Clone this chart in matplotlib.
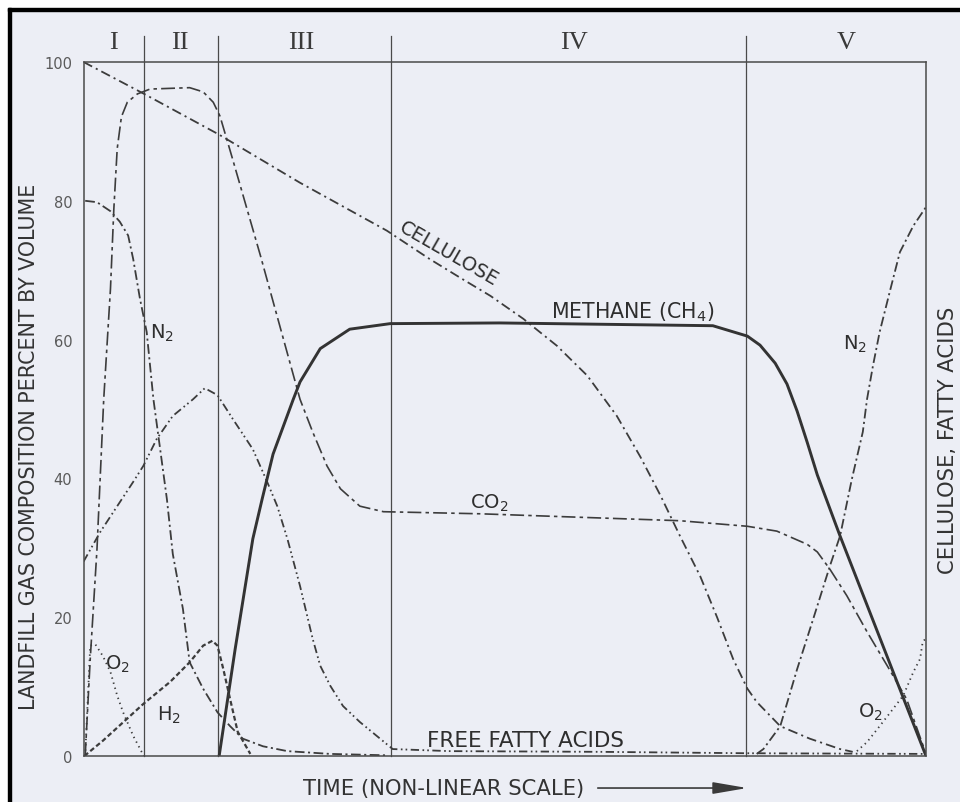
import matplotlib.pyplot as plt
from matplotlib.patches import Rectangle, FancyArrowPatch

plt.rcParams['font.family'] = ['DejaVu Sans']
plt.rcParams['mathtext.fontset'] = 'dejavusans'
plt.rcParams['lines.scale_dashes'] = False

# Fasi (tempo su scala 0-100, non lineare)
phase_edges = [7.2, 16.0, 36.5, 78.6]
phase_names = ["I", "II", "III", "IV", "V"]
phase_label_x = [3.5, 11.45, 25.9, 58.2, 90.5]

# Curve (x = tempo, y = % in volume)
cellulose_x = [0, 7.2, 16.0, 25.7, 36.0, 41.1, 45.0, 48.3, 52.2, 56.2, 59.8, 63.3, 66.1, 68.5,
               70.8, 73.2, 75.2, 77.1, 78.8, 79.9, 81.1, 82.7, 86.2, 89.8, 91.3]
cellulose_y = [100, 95.4, 89.6, 82.6, 75.7, 71.6, 68.7, 66.3, 63.0, 59.1, 54.8, 49.0, 43.1, 37.5,
               31.7, 25.9, 20.0, 14.0, 9.7, 7.8, 6.3, 4.3, 2.5, 1.0, 0.6]

acids_x = [0, 2.0, 4.0, 5.9, 7.1, 8.7, 10.6, 13.0, 14.4, 15.9, 17.7, 20.1, 21.8, 23.0, 24.2,
           25.7, 27.2, 28.1, 29.3, 30.8, 32.8, 34.8, 36.7, 43.5, 61.3, 78.5, 100]
acids_y = [28.0, 32.3, 36.0, 39.5, 41.8, 45.7, 49.0, 51.4, 53.0, 52.0, 48.6, 44.2, 39.5, 36.0, 31.3,
           24.5, 16.9, 13.0, 10.1, 7.2, 4.9, 2.9, 1.0, 0.7, 0.6, 0.4, 0.3]

co2_x = [0.2, 0.8, 1.6, 2.4, 3.2, 3.6, 4.0, 4.5, 5.2, 6.4, 7.9, 12.6, 14.2, 15.4, 16.2, 17.0, 17.7,
         21.0, 25.7, 27.2, 28.9, 30.5, 32.8, 35.6, 47.1, 58.9, 70.8, 78.8, 82.3, 85.9, 87.1, 88.6,
         90.6, 93.0, 95.4, 97.7, 100]
co2_y = [0, 14.0, 29.8, 51.4, 67.3, 78.8, 87.5, 92.1, 94.2, 95.4, 96.1, 96.3, 95.7, 94.2, 92.2, 88.9,
         86.0, 72.1, 51.4, 46.7, 41.8, 38.5, 36.0, 35.2, 34.9, 34.4, 33.9, 33.1, 32.4, 30.5, 29.4,
         26.9, 23.1, 17.9, 13.0, 8.2, 0.3]

ch4_x = [16.1, 18.0, 20.1, 21.2, 22.5, 24.9, 25.7, 28.1, 31.6, 36.4, 49.4, 74.7, 78.8, 80.3,
         82.1, 83.5, 84.7, 85.9, 87.1, 89.8, 100]
ch4_y = [0, 15.4, 31.3, 37.0, 43.5, 51.4, 53.9, 58.7, 61.5, 62.3, 62.4, 62.0, 60.5, 59.2,
         56.6, 53.6, 49.7, 45.2, 40.5, 31.7, 0]

h2_x = [0.1, 2.3, 7.1, 10.3, 12.6, 14.2, 15.3, 15.9, 16.6, 17.4, 18.3, 19.8]
h2_y = [0, 2.2, 7.5, 10.7, 13.5, 15.9, 16.6, 15.9, 12.5, 8.2, 3.5, 0.3]

n2_early_x = [0.2, 1.6, 3.2, 4.3, 5.3, 5.9, 6.7, 7.5, 8.3, 9.1, 9.9, 10.6, 11.8, 12.6, 14.2,
              15.9, 17.4, 18.9, 21.3, 24.2, 29.3, 36.0]
n2_early_y = [80.0, 79.8, 78.5, 77.0, 75.0, 71.6, 65.9, 61.1, 51.4, 44.2, 37.0, 29.1, 21.2, 13.5, 9.7,
              6.3, 4.3, 2.5, 1.4, 0.7, 0.3, 0.1]

o2_early_x = [0.2, 0.8, 1.4, 2.3, 3.2, 4.0, 4.7, 5.9, 6.9, 7.2]
o2_early_y = [0, 15.9, 16.1, 14.4, 12.1, 8.7, 6.3, 2.9, 0.6, 0]

n2_late_x = [79.9, 80.7, 82.7, 84.7, 86.6, 88.6, 89.8, 91.2, 92.5, 93.0, 93.7, 94.5, 95.7, 96.9,
             98.5, 100]
n2_late_y = [0.3, 1.0, 4.3, 12.5, 19.7, 27.4, 31.7, 39.9, 46.7, 51.4, 56.2, 61.1, 66.9, 72.6,
             76.4, 79.1]

o2_late_x = [91.8, 93.0, 94.5, 96.1, 97.3, 98.5, 99.3, 99.6, 100]
o2_late_y = [0.7, 2.0, 4.3, 6.8, 8.7, 12.1, 14.0, 16.4, 17.0]

y_ticks = [0, 20, 40, 60, 80, 100]

paper = '#eceef5'
ink = '#3c3c3c'

fig = plt.figure(figsize=(9.6, 8.03), dpi=100, facecolor=paper)
ax = fig.add_axes([0.08698, 0.05729, 0.8776, 0.86426])
ax.set_facecolor(paper)
ax.set_xlim(0, 100)
ax.set_ylim(0, 100)

# cornice della scansione
fig.patches.append(Rectangle((0, 0), 8 / 960, 1, transform=fig.transFigure, color='white', zorder=0))
fig.patches.append(Rectangle((0, 1 - 9 / 803), 1, 9 / 803, transform=fig.transFigure, color='white', zorder=0))
fig.patches.append(Rectangle((8 / 960, 0), 3 / 960, 1 - 9 / 803, transform=fig.transFigure, color='black'))
fig.patches.append(Rectangle((8 / 960, 1 - 12 / 803), 1, 3 / 803, transform=fig.transFigure, color='black'))

for s in ax.spines.values():
    s.set_color('#4a4a4a')
    s.set_linewidth(1.1)

ax.set_xticks([])
ax.set_yticks(y_ticks)
ax.set_yticklabels([str(t) for t in y_ticks], fontsize=10.5, color='#5a5a5a')
ax.tick_params(axis='y', length=0, pad=8)

# linee delle fasi e numeri romani
for xe in phase_edges:
    ax.plot([xe, xe], [0, 103.75], color='#4a4a4a', lw=0.9, clip_on=False)
for xn, name in zip(phase_label_x, phase_names):
    ax.text(xn, 102.95, name, ha='center', va='center', fontsize=19,
            family='Liberation Serif', color='#3a3a3a')

# curve
ax.plot(cellulose_x, cellulose_y, color=ink, lw=1.3, ls=(0, (7, 3, 1.5, 3)))
ax.plot(acids_x, acids_y, color=ink, lw=1.3, ls=(0, (6, 2.5, 1.2, 2.2, 1.2, 2.5)))
ax.plot(co2_x, co2_y, color=ink, lw=1.2, ls=(0, (10, 3, 2.5, 3)))
ax.plot(ch4_x, ch4_y, color='#333333', lw=2.1)
ax.plot(h2_x, h2_y, color=ink, lw=1.6, ls=(0, (3.5, 2)))
ax.plot(n2_early_x, n2_early_y, color=ink, lw=1.3, ls=(0, (7, 2.5, 1.5, 2.5)))
ax.plot(n2_late_x, n2_late_y, color=ink, lw=1.3, ls=(0, (7, 2.5, 1.5, 2.5)))
ax.plot(o2_early_x, o2_early_y, color=ink, lw=1.3, ls=(0, (1, 2.8)))
ax.plot(o2_late_x, o2_late_y, color=ink, lw=1.3, ls=(0, (1, 2.8)))

# etichette delle curve
lab = dict(color='#2e2e2e', ha='center', va='center')
ax.text(43.4, 72.5, "CELLULOSE", fontsize=14, rotation=-30, **lab)
ax.text(65.2, 64.1, r"METHANE (CH$_4$)", fontsize=14.8, **lab)
ax.text(48.2, 36.6, r"CO$_2$", fontsize=14, **lab)
ax.text(52.5, 2.3, "FREE FATTY ACIDS", fontsize=15.5, **lab)
ax.text(9.3, 61.0, r"N$_2$", fontsize=14, **lab)
ax.text(10.15, 6.05, r"H$_2$", fontsize=14, **lab)
ax.text(4.0, 13.3, r"O$_2$", fontsize=14, **lab)
ax.text(91.6, 59.4, r"N$_2$", fontsize=14, **lab)
ax.text(93.35, 6.5, r"O$_2$", fontsize=14, **lab)

# titoli degli assi
fig.text(0.0297, 0.4433, "LANDFILL GAS COMPOSITION PERCENT BY VOLUME", rotation=90,
         ha='center', va='center', fontsize=14.9, color='#333333')
fig.text(0.988, 0.452, "CELLULOSE, FATTY ACIDS", rotation=90,
         ha='center', va='center', fontsize=15.2, color='#333333')
fig.text(0.4625, 0.0174, "TIME (NON-LINEAR SCALE)", ha='center', va='center',
         fontsize=15.2, color='#333333')
fig.patches.append(FancyArrowPatch((595 / 960, 0.0174), (750 / 960, 0.0174),
                                   transform=fig.transFigure, arrowstyle='-|>,head_length=2.1,head_width=0.36',
                                   mutation_scale=10, color='#3a3a3a', lw=1.2))

fig.savefig("out.png", dpi=100, facecolor=paper)
